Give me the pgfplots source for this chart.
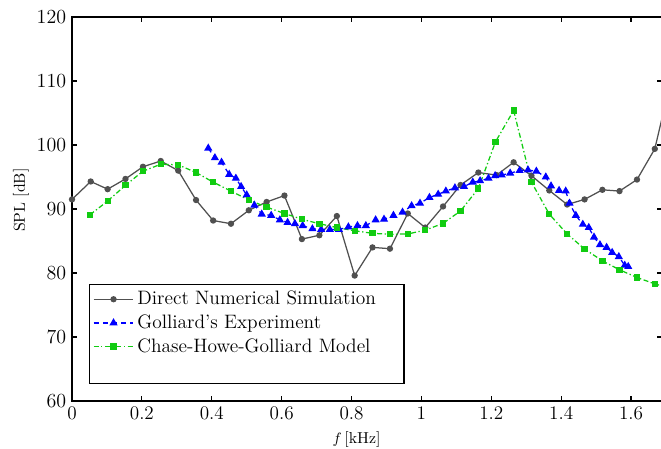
\documentclass[border=0pt]{standalone}
\usepackage{pgfplots}
\pgfplotsset{compat=1.18}
\definecolor{dnsgray}{RGB}{80,80,80}
\definecolor{chgreen}{RGB}{17,204,17}
\definecolor{gblue}{RGB}{0,0,255}
\begin{document}
\begin{tikzpicture}
\path[use as bounding box] (-43.2pt,-28.2pt) rectangle (353.4pt,240.6pt);
\begin{axis}[
  scale only axis,
  width=354.3pt, height=230.4pt,
  xmin=0, xmax=1.69, ymin=60, ymax=120,
  xtick={0,0.2,...,1.6}, ytick={60,70,...,120},
  xticklabels={0,0.2,0.4,0.6,0.8,1,1.2,1.4,1.6},
  tick align=inside, major tick length=3pt,
  axis line style={line width=0.9pt},
  every tick/.style={black, line width=0.7pt},
  tick label style={font=\fontsize{11.5}{13}\selectfont},
  xlabel={$f$\,[kHz]}, ylabel={SPL [dB]},
  label style={font=\fontsize{9.5}{11}\selectfont},
  x label style={at={(axis description cs:0.482,0)}, anchor=center, yshift=-23.4pt},
  y label style={at={(axis description cs:-0.0864,0.523)}, anchor=center},
  clip=true,
  legend cell align=left,
  legend style={at={(0,0)}, anchor=south west, xshift=10.2pt, yshift=10.2pt,
    draw=black, line width=0.8pt, font=\fontsize{11.65}{13}\selectfont,
    inner xsep=2pt, inner ysep=1.8pt, row sep=0.5pt,
    nodes={line width=0.4pt}},
  legend image code/.code={
    \draw[mark repeat=2,mark phase=2] plot coordinates {(0cm,0cm) (0.42cm,0cm) (0.84cm,0cm)};},
]
\addplot[color=dnsgray, line width=0.75pt, mark=*, mark size=1.5pt, mark options={solid, fill=dnsgray}] coordinates {
(0,91.5) (0.0535,94.3) (0.102,93.1) (0.153,94.7) (0.203,96.6) (0.254,97.5)
(0.304,96.0) (0.355,91.4) (0.404,88.2) (0.455,87.7) (0.506,89.8) (0.557,91.1)
(0.608,92.1) (0.658,85.3) (0.708,85.9) (0.758,88.9) (0.809,79.6) (0.86,84.0)
(0.91,83.8) (0.961,89.3) (1.011,87.1) (1.062,90.4) (1.112,93.75) (1.163,95.7)
(1.215,95.3) (1.264,97.3) (1.315,95.2) (1.366,92.9) (1.417,90.7) (1.467,91.5)
(1.518,93.0) (1.567,92.8) (1.617,94.6) (1.668,99.4) (1.718,111.0)
};
\addlegendentry{Direct Numerical Simulation\kern12.8pt}
\addplot[color=gblue, line width=0.75pt, dash pattern=on 3pt off 2.5pt, mark=triangle*, mark size=2.1pt, mark options={solid, fill=gblue}] coordinates {
(0.390,99.5) (0.409,98.0) (0.428,97.3) (0.450,95.4) (0.469,94.8) (0.484,93.5)
(0.500,92.2) (0.522,90.6) (0.543,89.2) (0.570,89.0) (0.595,88.3) (0.617,87.9)
(0.638,87.7) (0.660,87.4) (0.688,86.9) (0.713,86.8) (0.738,86.8) (0.764,86.8)
(0.791,87.2) (0.817,87.4) (0.841,87.4) (0.869,88.3) (0.893,88.4) (0.920,89.0)
(0.946,89.5) (0.972,90.5) (0.996,90.9) (1.023,91.8) (1.048,92.3) (1.070,92.8)
(1.096,93.3) (1.122,93.5) (1.147,94.2) (1.168,94.4) (1.192,94.8) (1.211,95.2)
(1.230,95.3) (1.254,95.6) (1.281,96.0) (1.305,96.1) (1.329,95.9) (1.356,95.0)
(1.371,93.6) (1.394,92.9) (1.413,92.8) (1.424,90.9) (1.442,89.0) (1.462,87.6)
(1.479,87.1) (1.494,85.6) (1.511,84.4) (1.530,84.0) (1.546,83.2) (1.565,82.55)
(1.582,81.2) (1.592,81.0)
};
\addlegendentry{Golliard's Experiment}
\addplot[color=chgreen, line width=0.75pt, dash pattern=on 3pt off 1.5pt on 0.8pt off 1.5pt, mark=square*, mark size=1.5pt, mark options={solid, fill=chgreen}] coordinates {
(0.0515,89.1) (0.102,91.25) (0.153,93.7) (0.203,95.9) (0.254,97.0) (0.304,96.9)
(0.355,95.7) (0.404,94.2) (0.455,92.8) (0.506,91.4) (0.557,90.3) (0.608,89.3)
(0.658,88.4) (0.708,87.7) (0.758,87.1) (0.809,86.6) (0.86,86.2) (0.91,86.05)
(0.961,86.1) (1.011,86.7) (1.062,87.75) (1.112,89.7) (1.163,93.2) (1.212,100.5)
(1.264,105.4) (1.315,94.2) (1.366,89.2) (1.417,86.1) (1.467,83.75) (1.518,81.9)
(1.567,80.5) (1.617,79.3) (1.668,78.3) (1.718,77.5)
};
\addlegendentry{Chase-Howe-Golliard Model}
\addlegendimage{empty legend}
\addlegendentry{\rule{0pt}{7.4pt}}
\end{axis}
\end{tikzpicture}
\end{document}
